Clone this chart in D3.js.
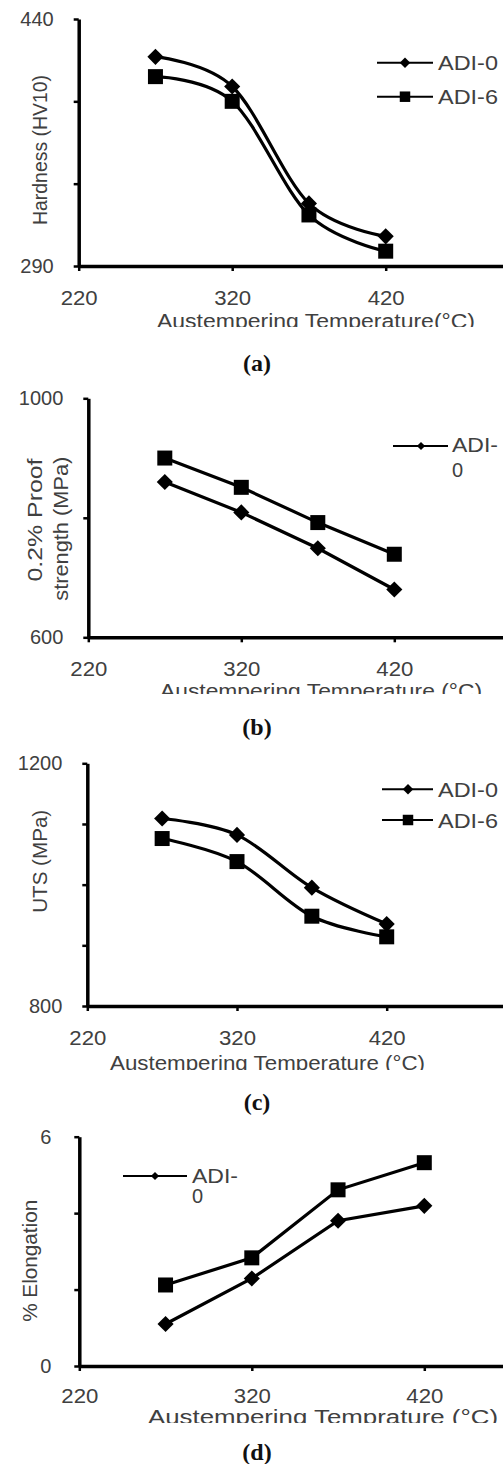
<!DOCTYPE html>
<html>
<head>
<meta charset="utf-8">
<script src="https://cdn.jsdelivr.net/npm/d3@7"></script>
<style>
  body { margin: 0; background: #fff; }
  svg { display: block; }
</style>
</head>
<body>
<div id="chart"></div>
<script>
var width = 503;
var height = 1464;
var svg;
var defs;

// data
var temps = [270, 320, 370, 420];
var xTicks = [220, 320, 420];
var seriesNames = ["ADI-0", "ADI-6"];

var hardness0 = [417, 399, 328, 308];
var hardness6 = [405, 390, 321, 299];
var hardnessTicks = [290, 340, 390, 440];

var proof0 = [860, 809, 749, 680];
var proof6 = [900, 851, 792, 739];
var proofTicks = [600, 800, 1000];

var uts0 = [1109, 1082, 995, 935];
var uts6 = [1076, 1038, 948, 914];
var utsTicks = [800, 900, 1000, 1100, 1200];

var elong0 = [1.10, 2.29, 3.80, 4.19];
var elong6 = [2.12, 2.83, 4.61, 5.32];
var elongTicks = [0, 2, 4, 6];

var textColor = "#404040";
var sans = "'Liberation Sans', Arial, sans-serif";

function init(){
    svg = d3.select("#chart")
            .append("svg")
            .attr("width", width)
            .attr("height", height);
    svg.append("rect").attr("width", width).attr("height", height).attr("fill", "#fff");
    defs = svg.append("defs");
}

function display(){

    var panels = [
        {id: "a", top: 0, clipBottom: 327, x0: 78.7, px100: 153.5, yTop: 19, yBottom: 266,
         ticks: hardnessTicks, series: [hardness0, hardness6], smooth: true, xPad: 20, yPad: 20,
         yTitle: [{t: "Hardness (HV10)", x: 40, y: 150, len: 150}],
         xTitle: {t: "Austempering Temperature(°C)", x: 316, y: 328, len: 318},
         legend: {x1: 377, x2: 433, mx: 405, ys: [62.7, 96.7], tx: 438, both: true},
         caption: {t: "(a)", y: 371}},
        {id: "b", top: 380, clipBottom: 694, x0: 88.3, px100: 153, yTop: 398.3, yBottom: 637.3,
         ticks: proofTicks, series: [proof0, proof6], smooth: false, xPad: 20, yPad: 20,
         yTitle: [{t: "0.2% Proof", x: 35, y: 520, len: 123}, {t: "strength (MPa)", x: 61, y: 528.7, len: 144}],
         xTitle: {t: "Austempering Temperature (°C)", x: 321, y: 697.5, len: 322},
         legend: {x1: 393, x2: 448, mx: 421, ys: [446], tx: 452, both: false, b1: 452.3, b2: 477.3},
         caption: {t: "(b)", y: 734.5}},
        {id: "c", top: 745, clipBottom: 1070, x0: 87.3, px100: 149.7, yTop: 763.3, yBottom: 1006,
         ticks: utsTicks, series: [uts0, uts6], smooth: true, xPad: 20, yPad: 20,
         yTitle: [{t: "UTS (MPa)", x: 40, y: 861.3, len: 103}],
         xTitle: {t: "Austempering Temperature (°C)", x: 267.5, y: 1070, len: 315},
         legend: {x1: 382, x2: 433, mx: 408, ys: [789.3, 820], tx: 438, both: true},
         caption: {t: "(c)", y: 1110}},
        {id: "d", top: 1120, clipBottom: 1423, x0: 79.3, px100: 172.5, yTop: 1136.7, yBottom: 1366,
         ticks: elongTicks, series: [elong0, elong6], smooth: false, xPad: 17.5, yPad: 23,
         yTitle: [{t: "% Elongation", x: 30, y: 1260.8, len: 122}],
         xTitle: {t: "Austempering Temprature (°C)", x: 323, y: 1424, len: 350},
         legend: {x1: 123, x2: 187, mx: 155, ys: [1176], tx: 192, both: false, b1: 1183.3, b2: 1203.3},
         caption: {t: "(d)", y: 1459.5}}
    ];

    var diamond = d3.symbol().type(d3.symbolSquare);

    panels.forEach(function(p){
        defs.append("clipPath")
            .attr("id", "clip-" + p.id)
            .append("rect")
            .attr("x", 0).attr("y", p.top)
            .attr("width", width).attr("height", p.clipBottom - p.top);

        var g = svg.append("g").attr("clip-path", "url(#clip-" + p.id + ")");

        var x = d3.scaleLinear().domain([220, 520]).range([p.x0, p.x0 + 3 * p.px100]);
        var yMin = d3.min(p.ticks), yMax = d3.max(p.ticks);
        var y = d3.scaleLinear().domain([yMin, yMax]).range([p.yBottom, p.yTop]);

        // axes
        var xa = g.append("g")
            .attr("transform", "translate(0," + p.yBottom + ")")
            .call(d3.axisBottom(x).tickValues(xTicks).tickSize(5).tickSizeOuter(0).tickPadding(p.xPad));
        var ya = g.append("g")
            .attr("transform", "translate(" + p.x0 + ",0)")
            .call(d3.axisLeft(y).tickValues(p.ticks).tickSize(5).tickSizeOuter(0).tickPadding(p.yPad)
                .tickFormat(function(d){ return (d === yMin || d === yMax) ? d : ""; }));

        [xa, ya].forEach(function(a){
            a.attr("font-family", sans).attr("font-size", 20);
            a.select(".domain").attr("stroke", "#000").attr("stroke-width", 3.5);
            a.selectAll(".tick line").attr("stroke", "#000").attr("stroke-width", 2.5);
            a.selectAll(".tick text").attr("fill", textColor);
        });
        xa.selectAll(".tick text").attr("textLength", 37).attr("lengthAdjust", "spacingAndGlyphs");

        // series
        var line = d3.line()
            .x(function(d, i){ return x(temps[i]); })
            .y(function(d){ return y(d); })
            .curve(p.smooth ? d3.curveCatmullRom.alpha(0) : d3.curveLinear);

        p.series.forEach(function(s, si){
            g.append("path")
                .datum(s)
                .attr("d", line)
                .attr("fill", "none")
                .attr("stroke", "#000")
                .attr("stroke-width", 3.2);

            g.selectAll(".m" + si)
                .data(s)
                .enter().append("path")
                .attr("class", "m" + si)
                .attr("d", diamond.size(si === 0 ? 130 : 225)())
                .attr("transform", function(d, i){
                    return "translate(" + x(temps[i]) + "," + y(d) + ")" + (si === 0 ? " rotate(45)" : "");
                })
                .attr("fill", "#000");
        });

        // axis titles
        p.yTitle.forEach(function(t){
            g.append("text")
                .attr("transform", "translate(" + t.x + "," + t.y + ") rotate(-90)")
                .attr("text-anchor", "middle")
                .attr("dy", "0.35em")
                .attr("font-family", sans)
                .attr("font-size", 20)
                .attr("fill", textColor)
                .attr("textLength", t.len)
                .attr("lengthAdjust", "spacingAndGlyphs")
                .text(t.t);
        });

        g.append("text")
            .attr("x", p.xTitle.x)
            .attr("y", p.xTitle.y)
            .attr("text-anchor", "middle")
            .attr("font-family", sans)
            .attr("font-size", 20)
            .attr("fill", textColor)
            .attr("textLength", p.xTitle.len)
            .attr("lengthAdjust", "spacingAndGlyphs")
            .text(p.xTitle.t);

        // legend
        var L = p.legend;
        if (L.both) {
            L.ys.forEach(function(ly, i){
                g.append("line")
                    .attr("x1", L.x1).attr("x2", L.x2)
                    .attr("y1", ly).attr("y2", ly)
                    .attr("stroke", "#000").attr("stroke-width", 2);
                g.append("path")
                    .attr("d", diamond.size(i === 0 ? 55 : 110)())
                    .attr("transform", "translate(" + L.mx + "," + ly + ")" + (i === 0 ? " rotate(45)" : ""))
                    .attr("fill", "#000");
                g.append("text")
                    .attr("x", L.tx).attr("y", ly)
                    .attr("dy", "0.36em")
                    .attr("font-family", sans)
                    .attr("font-size", 21)
                    .attr("fill", textColor)
                    .attr("textLength", 60)
                    .attr("lengthAdjust", "spacingAndGlyphs")
                    .text(seriesNames[i]);
            });
        } else {
            var ly = L.ys[0];
            g.append("line")
                .attr("x1", L.x1).attr("x2", L.x2)
                .attr("y1", ly).attr("y2", ly)
                .attr("stroke", "#000").attr("stroke-width", 2);
            g.append("path")
                .attr("d", diamond.size(34)())
                .attr("transform", "translate(" + L.mx + "," + ly + ") rotate(45)")
                .attr("fill", "#000");
            var parts = seriesNames[0].split("-");
            g.append("text")
                .attr("x", L.tx).attr("y", L.b1)
                .attr("font-family", sans)
                .attr("font-size", 20)
                .attr("fill", textColor)
                .attr("textLength", 46)
                .attr("lengthAdjust", "spacingAndGlyphs")
                .text(parts[0] + "-");
            g.append("text")
                .attr("x", L.tx).attr("y", L.b2)
                .attr("font-family", sans)
                .attr("font-size", 20)
                .attr("fill", textColor)
                .text(parts[1]);
        }

        // caption
        svg.append("text")
            .attr("x", 257)
            .attr("y", p.caption.y)
            .attr("text-anchor", "middle")
            .attr("font-family", "'Liberation Serif', 'Times New Roman', serif")
            .attr("font-weight", "bold")
            .attr("font-size", 24)
            .attr("fill", "#111")
            .text(p.caption.t);
    });
}

init();
display();
</script>
</body>
</html>
